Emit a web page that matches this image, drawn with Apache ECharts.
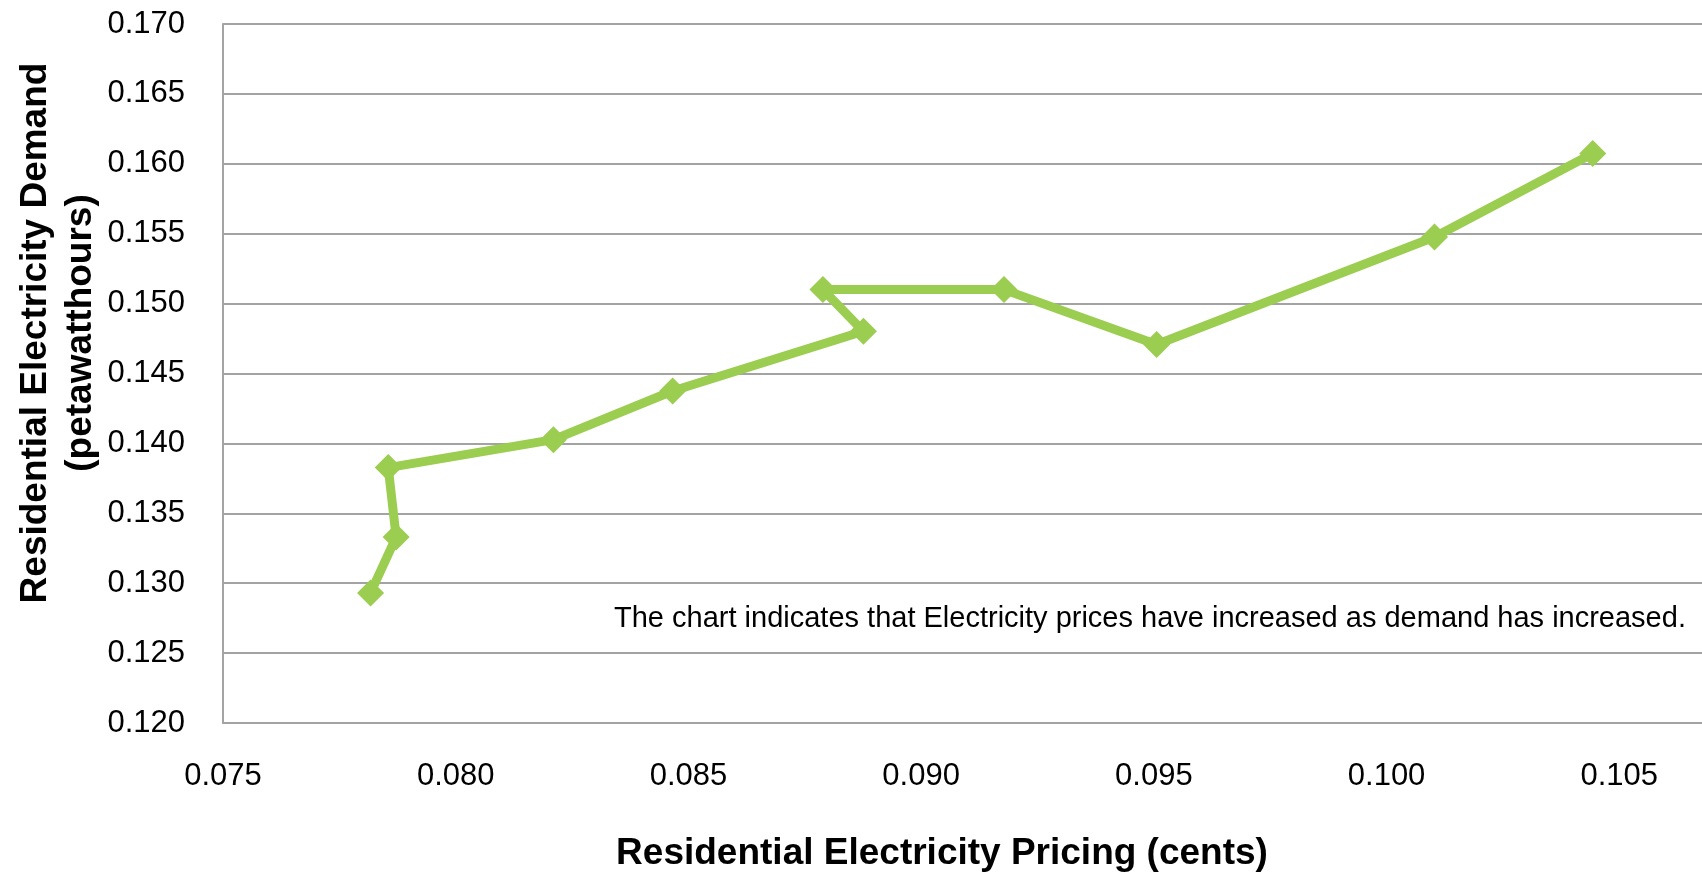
<!DOCTYPE html>
<html>
<head>
<meta charset="utf-8">
<title>Residential Electricity Pricing vs Demand</title>
<script src="https://cdn.jsdelivr.net/npm/echarts@6/dist/echarts.min.js"></script>
<style>
  html, body { margin: 0; padding: 0; background: #ffffff; }
  #chart { width: 1702px; height: 875px; }
</style>
</head>
<body>
<div id="chart"></div>
<script>
// Yearly observations: residential price (cents) against residential demand (petawatthours)
const priceCents = [0.07817, 0.07872, 0.07855, 0.08210, 0.08466, 0.08876, 0.08789, 0.09178, 0.09506, 0.10103, 0.10443];
const demandPWh  = [0.12930, 0.13330, 0.13827, 0.14027, 0.14375, 0.14802, 0.15100, 0.15100, 0.14707, 0.15476, 0.16073];

const xAxisTitle = 'Residential Electricity Pricing (cents)';
const yAxisTitle = ['Residential Electricity Demand', '(petawatthours)'];
const noteText = 'The chart indicates that Electricity prices have increased as demand has increased.';

const FONT = '"Liberation Sans", Arial, Helvetica, sans-serif';
const LINE_GREEN = '#9ACD50';
const GRID_GREY = '#A3A3A3';

const points = priceCents.map((p, i) => [p, demandPWh[i]]);

const chart = echarts.init(document.getElementById('chart'), null, { renderer: 'canvas' });

chart.setOption({
  backgroundColor: '#ffffff',
  animation: false,
  // the plot area runs past the right edge of the canvas
  grid: { left: 223, top: 24, bottom: 152, right: -150, outerBoundsMode: 'none', containLabel: false },
  xAxis: {
    type: 'value',
    min: 0.075,
    max: 0.110,
    interval: 0.005,
    axisLine: { show: true, lineStyle: { color: GRID_GREY, width: 2 } },
    axisTick: { show: false },
    splitLine: { show: false },
    axisLabel: {
      margin: 38,
      color: '#000000',
      fontFamily: FONT,
      fontSize: 31,
      formatter: v => v.toFixed(3)
    }
  },
  yAxis: {
    type: 'value',
    min: 0.12,
    max: 0.17,
    interval: 0.005,
    axisLine: { show: true, lineStyle: { color: GRID_GREY, width: 2 } },
    axisTick: { show: false },
    splitLine: { show: true, lineStyle: { color: GRID_GREY, width: 2 } },
    axisLabel: {
      margin: 38,
      color: '#000000',
      fontFamily: FONT,
      fontSize: 31,
      formatter: v => v.toFixed(3)
    }
  },
  graphic: [
    {
      // vertical axis title, two lines reading bottom to top
      type: 'text',
      x: 58,
      y: 333,
      rotation: Math.PI / 2,
      style: {
        text: yAxisTitle.join('\n'),
        fill: '#000000',
        font: 'bold 37px ' + FONT,
        lineHeight: 45,
        align: 'center',
        verticalAlign: 'middle'
      }
    },
    {
      // horizontal axis title
      type: 'text',
      x: 942,
      y: 854,
      style: {
        text: xAxisTitle,
        fill: '#000000',
        font: 'bold 37px ' + FONT,
        align: 'center',
        verticalAlign: 'middle'
      }
    },
    {
      type: 'text',
      x: 614,
      y: 619,
      style: {
        text: noteText,
        fill: '#000000',
        font: '29px ' + FONT,
        align: 'left',
        verticalAlign: 'middle'
      }
    }
  ],
  series: [
    {
      type: 'line',
      data: points,
      symbol: 'diamond',
      symbolSize: 27,
      showAllSymbol: true,
      lineStyle: { color: LINE_GREEN, width: 9, join: 'round' },
      itemStyle: { color: LINE_GREEN, borderWidth: 0 },
      emphasis: { disabled: true }
    }
  ]
});
</script>
</body>
</html>
